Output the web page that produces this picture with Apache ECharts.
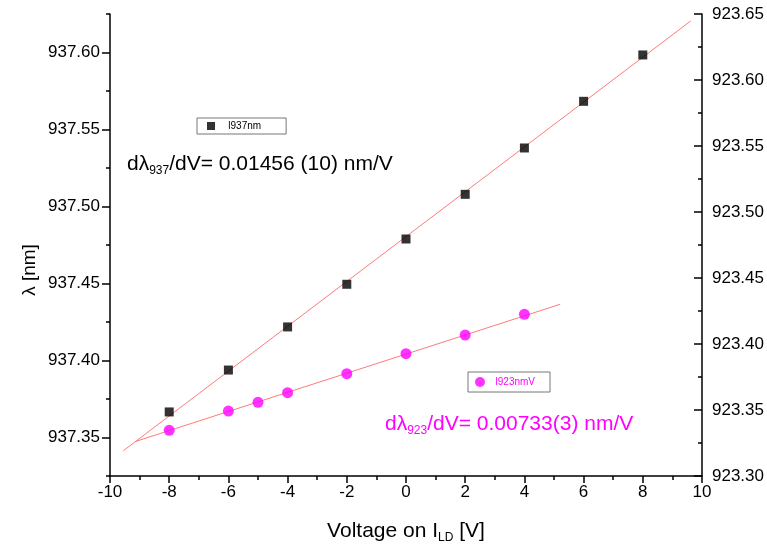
<!DOCTYPE html>
<html>
<head>
<meta charset="utf-8">
<script src="https://cdn.jsdelivr.net/npm/echarts@6/dist/echarts.min.js"></script>
<style>html,body{margin:0;padding:0;background:#fff;}#c{width:767px;height:554px;}</style>
</head>
<body>
<div id="c"></div>
<script>
// ---- data ----
const volt937 = [-8, -6, -4, -2, 0, 2, 4, 6, 8];
const lam937 = [937.3666, 937.3938, 937.4218, 937.4495, 937.4789, 937.5079, 937.5380, 937.5683, 937.5984];
const volt923 = [-8, -6, -5, -4, -2, 0, 2, 4];
const lam923 = [923.3346, 923.3492, 923.3558, 923.3631, 923.3775, 923.3927, 923.4068, 923.4225];
// linear fit end points (as drawn)
const fit937X = [-9.55, 9.62];
const fit937Y = [937.3414, 937.6205];
const fit923X = [-9.16, 5.21];
const fit923Y = [923.326, 923.4301];
// tick labels
const xTicks = [-10, -8, -6, -4, -2, 0, 2, 4, 6, 8, 10];
const leftTicks = [937.35, 937.40, 937.45, 937.50, 937.55, 937.60];
const leftMinor = [937.325, 937.375, 937.425, 937.475, 937.525, 937.575, 937.625];
const rightTicks = [923.30, 923.35, 923.40, 923.45, 923.50, 923.55, 923.60, 923.65];
const seriesNames = ['l937nm', 'l923nmV'];

const pair = (xs, ys) => xs.map((x, i) => [x, ys[i]]);
const FONT = '"Liberation Sans", Arial, Helvetica, sans-serif';
const axisCol = '#000';

const chart = echarts.init(document.getElementById('c'), null, {renderer: 'canvas'});
chart.setOption({
  backgroundColor: '#fff',
  animation: false,
  textStyle: {fontFamily: FONT},
  grid: {left: 110, right: 65, top: 14, bottom: 78, containLabel: false},
  xAxis: {
    type: 'value', min: xTicks[0], max: xTicks[xTicks.length - 1], interval: 2,
    axisLine: {onZero: false, lineStyle: {color: axisCol, width: 1.5}},
    axisTick: {length: 7, lineStyle: {color: axisCol, width: 1.5}},
    minorTick: {show: true, splitNumber: 2, length: 4, lineStyle: {color: axisCol, width: 1.5}},
    splitLine: {show: false},
    axisLabel: {fontSize: 17, color: '#000', margin: 8, fontFamily: FONT},
    name: '{a|Voltage on I}{s|LD}{a| [V]}',
    nameLocation: 'middle', nameGap: 43,
    nameTextStyle: {rich: {
      a: {fontSize: 21, color: '#000', fontFamily: FONT},
      s: {fontSize: 12, color: '#000', fontFamily: FONT, padding: [13, 0, 0, 0]}
    }}
  },
  yAxis: [
    {
      type: 'value', position: 'left', min: leftMinor[0], max: leftMinor[leftMinor.length - 1],
      axisLine: {show: true, onZero: false, lineStyle: {color: axisCol, width: 1.5}},
      axisTick: {show: true, length: 8, customValues: leftTicks, lineStyle: {color: axisCol, width: 1.5}},
      splitLine: {show: false},
      axisLabel: {customValues: leftTicks, formatter: v => v.toFixed(2), fontSize: 17, color: '#000', margin: 10, fontFamily: FONT}
    },
    {
      type: 'value', position: 'right', min: rightTicks[0], max: rightTicks[rightTicks.length - 1], interval: 0.05,
      axisLine: {show: true, onZero: false, lineStyle: {color: axisCol, width: 1.5}},
      axisTick: {show: true, inside: true, length: 8, lineStyle: {color: axisCol, width: 1.5}},
      minorTick: {show: true, splitNumber: 2, length: 4, lineStyle: {color: axisCol, width: 1.5}},
      splitLine: {show: false},
      axisLabel: {formatter: v => v.toFixed(2), fontSize: 17, color: '#000', margin: 10, fontFamily: FONT}
    },
    {
      type: 'value', position: 'left', min: leftMinor[0], max: leftMinor[leftMinor.length - 1],
      axisLine: {show: false, onZero: false},
      axisTick: {show: true, length: 4, customValues: leftMinor, lineStyle: {color: axisCol, width: 1.5}},
      splitLine: {show: false},
      axisLabel: {show: false}
    }
  ],
  legend: [
    {
      data: [seriesNames[0]], left: 197, top: 118, orient: 'horizontal',
      borderColor: '#777', borderWidth: 1, padding: [3, 25, 3, 10],
      itemWidth: 8, itemHeight: 8, formatter: '   {name}',
      textStyle: {fontSize: 10, color: '#000', fontFamily: FONT}, selectedMode: false
    },
    {
      data: [seriesNames[1]], left: 468, top: 372, orient: 'horizontal',
      borderColor: '#777', borderWidth: 1, padding: [5, 15, 5, 7],
      itemWidth: 10, itemHeight: 10, formatter: '  {name}',
      textStyle: {fontSize: 10, color: '#ff00ff', fontFamily: FONT}, selectedMode: false
    }
  ],
  series: [
    {
      name: 'fit937', type: 'line', yAxisIndex: 0, data: pair(fit937X, fit937Y),
      showSymbol: false, symbol: 'none', lineStyle: {color: '#ff7a7a', width: 1}, z: 1
    },
    {
      name: 'fit923', type: 'line', yAxisIndex: 1, data: pair(fit923X, fit923Y),
      showSymbol: false, symbol: 'none', lineStyle: {color: '#ff7a7a', width: 1}, z: 1
    },
    {
      name: seriesNames[0], type: 'scatter', yAxisIndex: 0, data: pair(volt937, lam937),
      symbol: 'rect', symbolSize: 9, itemStyle: {color: '#000'}, z: 3
    },
    {
      name: seriesNames[1], type: 'scatter', yAxisIndex: 1, data: pair(volt923, lam923),
      symbol: 'circle', symbolSize: 11, itemStyle: {color: '#ff00ff'}, z: 3
    }
  ],
  graphic: [
    {
      type: 'text', x: 30, y: 270, rotation: Math.PI / 2,
      style: {text: 'λ [nm]', fontSize: 19, fill: '#000', fontFamily: FONT, align: 'center', verticalAlign: 'middle'}
    },
    {
      type: 'text', x: 127, y: 152,
      style: {
        text: '{a|dλ}{s|937}{a|/dV= 0.01456 (10) nm/V}',
        rich: {
          a: {fontSize: 21, fill: '#000', fontFamily: FONT},
          s: {fontSize: 12, fill: '#000', fontFamily: FONT, padding: [13, 0, 0, 0]}
        }
      }
    },
    {
      type: 'text', x: 385, y: 412,
      style: {
        text: '{a|dλ}{s|923}{a|/dV= 0.00733(3) nm/V}',
        rich: {
          a: {fontSize: 21, fill: '#ff00ff', fontFamily: FONT},
          s: {fontSize: 12, fill: '#ff00ff', fontFamily: FONT, padding: [13, 0, 0, 0]}
        }
      }
    }
  ]
});
</script>
</body>
</html>
